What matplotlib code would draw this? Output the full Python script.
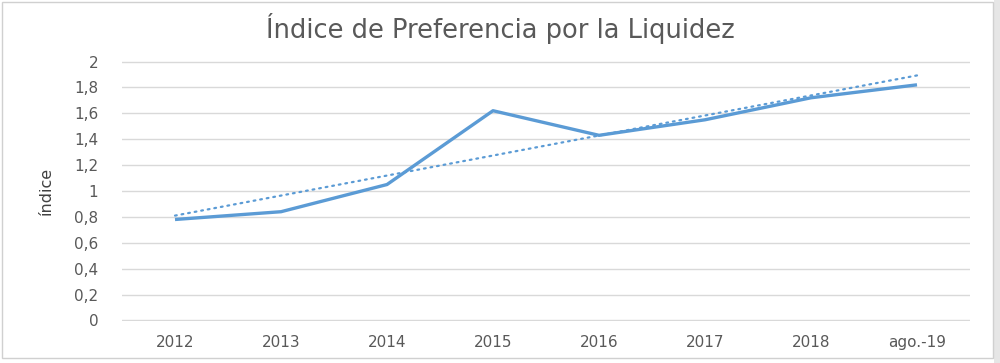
import matplotlib
matplotlib.use("Agg")
import matplotlib.pyplot as plt
from matplotlib.patches import Rectangle
import numpy as np

categories = ["2012", "2013", "2014", "2015", "2016", "2017", "2018", "ago.-19"]
values = [0.78, 0.84, 1.05, 1.62, 1.43, 1.55, 1.72, 1.82]
yticks = [0, 0.2, 0.4, 0.6, 0.8, 1.0, 1.2, 1.4, 1.6, 1.8, 2.0]
ytick_labels = ["0", "0,2", "0,4", "0,6", "0,8", "1", "1,2", "1,4", "1,6", "1,8", "2"]

plt.rcParams['font.family'] = ['DejaVu Sans']

fig = plt.figure(figsize=(10, 3.63), dpi=100)
fig.patch.set_facecolor("white")
# right-hand gray strip and border
fig.patches.append(Rectangle((0.994, 0), 0.006, 1, transform=fig.transFigure,
                             facecolor="#e6e6e6", edgecolor="none", zorder=0))
fig.patches.append(Rectangle((0.002, 0.015), 0.991, 0.98, transform=fig.transFigure,
                             facecolor="none", edgecolor="#d0d0d0", linewidth=1.0, zorder=1))

ax = fig.add_axes([0.122, (363 - 321) / 363, 0.848, (321 - 61) / 363])
x = np.arange(len(categories))
ax.plot(x, values, color="#5B9BD5", linewidth=2.4, solid_capstyle="butt", zorder=3)
coef = np.polyfit(x, values, 1)
ax.plot(x, np.polyval(coef, x), color="#5B9BD5", linewidth=1.6,
        linestyle=(0, (0.8, 2.2)), dash_capstyle="round", zorder=2)

ax.set_xlim(-0.5, len(categories) - 0.5)
ax.set_ylim(-0.004, 2.004)
ax.set_yticks(yticks)
ax.set_yticklabels(ytick_labels)
ax.set_xticks(x)
ax.set_xticklabels(categories)
ax.grid(axis="y", color="#d9d9d9", linewidth=1.0)
ax.set_axisbelow(True)
for s in ax.spines.values():
    s.set_visible(False)
ax.tick_params(axis="both", length=0, colors="#595959", labelsize=11)
ax.tick_params(axis="y", pad=17)
ax.tick_params(axis="x", pad=10)
ax.set_ylabel("índice", fontsize=11.5, color="#404040",
              family=['Liberation Sans Narrow', 'DejaVu Sans'], labelpad=8)
ax.yaxis.set_label_coords(-0.08, 0.5)

fig.text(0.5, 0.922, "Índice de Preferencia por la Liquidez", ha="center", va="center",
         fontsize=18.5, color="#595959")

fig.savefig("out.png", dpi=100)
